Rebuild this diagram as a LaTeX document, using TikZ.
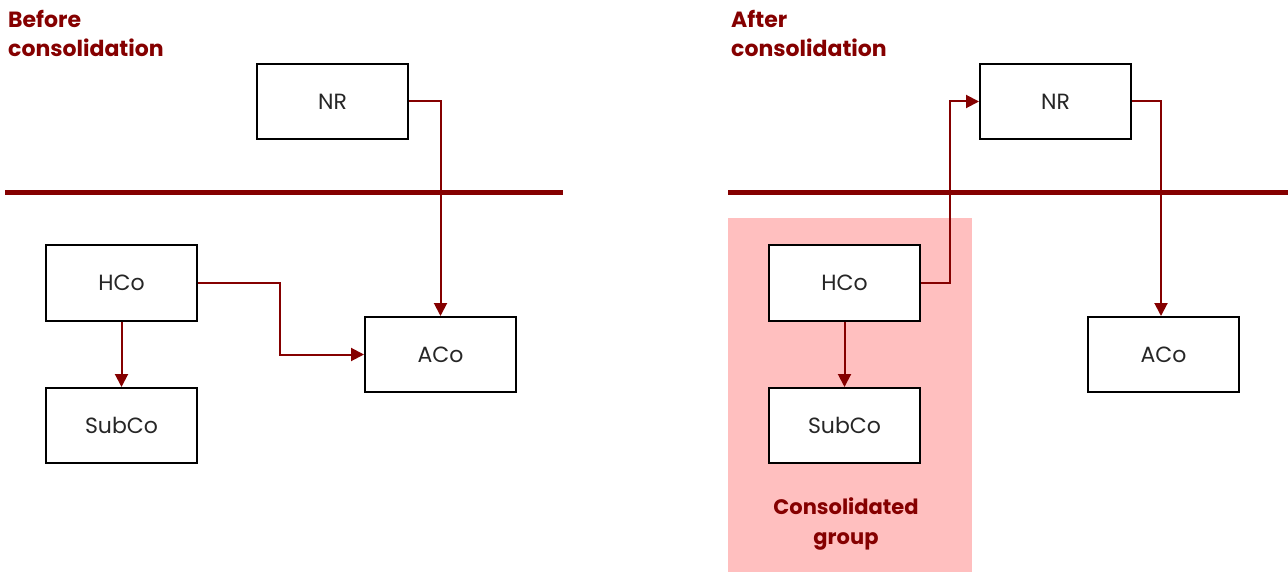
\documentclass[tikz,border=0pt]{standalone}
\usepackage{fontspec}
\setmainfont{Poppins}
\usetikzlibrary{arrows.meta}
\definecolor{dred}{HTML}{850000}
\definecolor{pinkbg}{HTML}{FFBFBF}
\tikzset{
  entity/.style={draw=black, fill=white, line width=2pt, minimum width=151pt, minimum height=75pt, inner sep=0pt, font=\fontsize{22}{26}\selectfont, text=black!85},
  link/.style={draw=dred, line width=2pt, -{Triangle[length=13pt,width=13pt]}},
  title/.style={text=dred, font=\bfseries\fontsize{22}{29}\selectfont, align=left, anchor=north west, inner sep=0pt},
  divider/.style={draw=dred, line width=5pt}
}
\begin{document}
\begin{tikzpicture}[x=1pt,y=-1pt]
\useasboundingbox (0,0) rectangle (1288,572);
% pink group
\fill[pinkbg] (728,218) rectangle (972,572);
% dividers
\draw[divider] (5,193) -- (563,193);
\draw[divider] (728,193) -- (1288,193);
% titles
\node[title] (tb) at (8,10) {Before\\consolidation};
\node[title] (ta) at (731,10) {After\\consolidation};
% left boxes
\node[entity] (nr1) at (332.5,101.5) {NR};
\node[entity] (hco1) at (121.5,283) {HCo};
\node[entity] (sub1) at (121.5,425.5) {SubCo};
\node[entity] (aco1) at (440.5,354.5) {ACo};
% right boxes
\node[entity] (nr2) at (1055.5,101.5) {NR};
\node[entity] (hco2) at (844.5,283) {HCo};
\node[entity] (sub2) at (844.5,425.5) {SubCo};
\node[entity] (aco2) at (1163.5,354.5) {ACo};
% group label
\node[text=dred, font=\bfseries\fontsize{21}{30}\selectfont, align=center] (grp) at (846,524) {Consolidated\\group};
% left links
\draw[link] (nr1.east) -| (aco1.north);
\coordinate (c2) at (280,284);
\draw[link] (hco1.east) -- (hco1.east -| c2) |- (aco1.west);
\draw[link] (hco1.south) -- (sub1.north);
% right links
\coordinate (c3) at (950,284);
\draw[link] (hco2.east) -- (hco2.east -| c3) |- (nr2.west);
\coordinate (c4) at (1161,101);
\draw[link] (nr2.east) -| (c4 |- aco2.north);
\draw[link] (hco2.south) -- (sub2.north);
\end{tikzpicture}
\end{document}
